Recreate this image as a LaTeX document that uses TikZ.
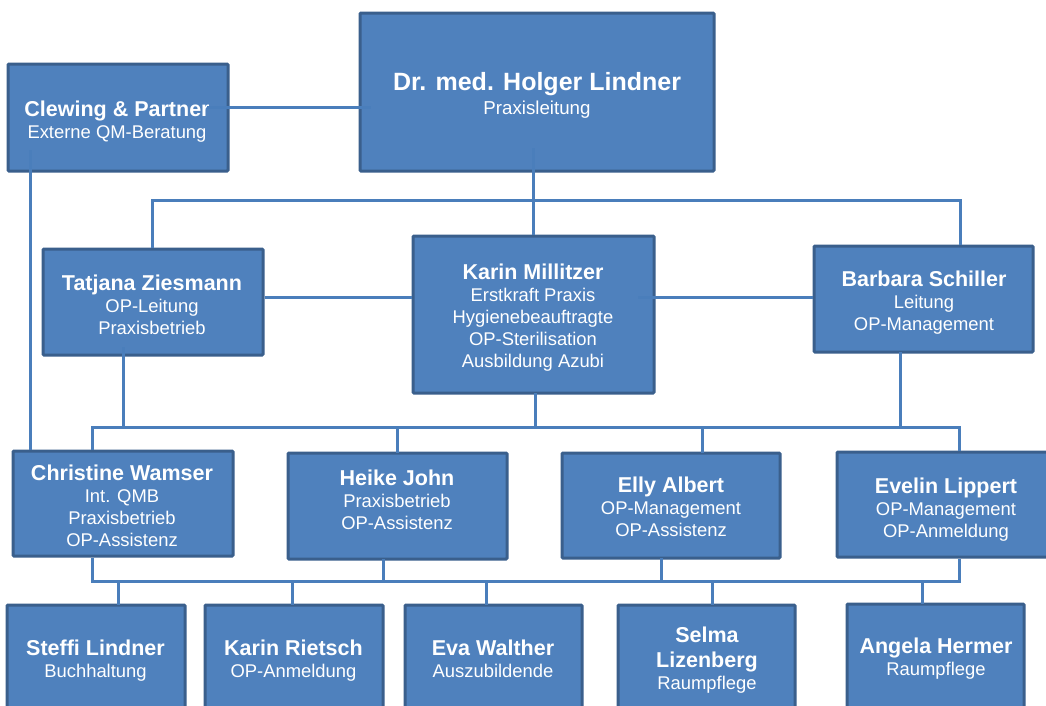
\documentclass[tikz,border=0pt]{standalone}
\usepackage{fontspec}
\setmainfont{Liberation Sans}
\definecolor{fillc}{HTML}{4F81BD}
\definecolor{bordc}{HTML}{3A5F8C}
\definecolor{linec}{HTML}{4A7EBB}
\newcommand\nm[1]{{\bfseries\fontsize{21.5}{22}\selectfont #1}}
\newcommand\nmL[1]{{\bfseries\fontsize{25}{24}\selectfont #1}}
\tikzset{
  box/.style={draw=bordc, fill=fillc, line width=3pt, rounded corners=1pt, inner sep=0pt},
  conn/.style={draw=linec, line width=3pt},
  txt/.style={text=white, align=center, anchor=base, inner sep=0pt, font=\fontsize{18.4}{22}\selectfont},
}
\begin{document}
\begin{tikzpicture}[x=1pt, y=-1pt]
\clip (0,0) rectangle (1046,705);
\fill[white] (0,0) rectangle (1046,705);
% boxes
\node[box, minimum width=354pt, minimum height=158pt] (holger) at (537,92) {};
\node[box, minimum width=220pt, minimum height=107pt] (clew) at (118,117.5) {};
\node[box, minimum width=220pt, minimum height=106pt] (tatj) at (153,302) {};
\node[box, minimum width=241pt, minimum height=157pt] (karin) at (533.5,314.5) {};
\node[box, minimum width=219pt, minimum height=106pt] (barb) at (923.5,299) {};
\node[box, minimum width=220pt, minimum height=105pt] (chris) at (123,503.5) {};
\node[box, minimum width=219pt, minimum height=106pt] (heike) at (397.5,506) {};
\node[box, minimum width=218pt, minimum height=105pt] (elly) at (671,505.5) {};
\node[box, minimum width=213pt, minimum height=105pt] (evel) at (943.5,504.5) {};
\node[box, minimum width=178pt, minimum height=125pt] (steffi) at (96,667.5) {};
\node[box, minimum width=178pt, minimum height=125pt] (karinr) at (294,667.5) {};
\node[box, minimum width=177pt, minimum height=125pt] (eva) at (493.5,667.5) {};
\node[box, minimum width=177pt, minimum height=125pt] (selma) at (706.5,667.5) {};
\node[box, minimum width=177pt, minimum height=126pt] (angela) at (935.5,667) {};
% texts (anchor = baseline of last line)
\node[txt, font=\fontsize{18.7}{24}\selectfont] (holger-t) at (537,114) {\nmL{Dr. med. Holger Lindner}\\Praxisleitung};
\node[txt] (clew-t) at (117,138) {\nm{Clewing \& Partner}\\Externe QM-Beratung};
\node[txt] (tatj-t) at (152,334) {\nm{Tatjana Ziesmann}\\OP-Leitung\\Praxisbetrieb};
\node[txt] (karin-t) at (533,367) {\nm{Karin Millitzer}\\Erstkraft Praxis\\Hygienebeauftragte\\OP-Sterilisation\\Ausbildung Azubi};
\node[txt] (barb-t) at (924,330) {\nm{Barbara Schiller}\\Leitung\\OP-Management};
\node[txt] (chris-t) at (122,546) {\nm{Christine Wamser}\\Int. QMB\\Praxisbetrieb\\OP-Assistenz};
\node[txt] (heike-t) at (397,529) {\nm{Heike John}\\Praxisbetrieb\\OP-Assistenz};
\node[txt] (elly-t) at (671,536) {\nm{Elly Albert}\\OP-Management\\OP-Assistenz};
\node[txt] (evel-t) at (946,537) {\nm{Evelin Lippert}\\OP-Management\\ OP-Anmeldung};
\node[txt] (steffi-t) at (95.5,677) {\nm{Steffi Lindner}\\Buchhaltung};
\node[txt] (karinr-t) at (293.5,677) {\nm{Karin Rietsch}\\OP-Anmeldung};
\node[txt] (eva-t) at (493,677) {\nm{Eva Walther}\\Auszubildende};
\node[txt] (selma-t) at (707,689) {\nm{Selma}\\[3pt]\nm{Lizenberg}\\Raumpflege};
\node[txt] (angela-t) at (936,675) {\nm{Angela Hermer}\\Raumpflege};
% junction coordinates
\coordinate (cl1) at (207,107);
\coordinate (ho1) at (371,107);
\coordinate (cl2) at (30,150);
\coordinate (ho2) at (533,148);
\coordinate (ta1) at (152,200);
\coordinate (ba1) at (960,200);
\coordinate (ta2) at (123,347);
\coordinate (ka1) at (638,297);
\coordinate (bus1) at (92,427);
\coordinate (bus2) at (959,427);
\coordinate (bus3) at (92,581);
\coordinate (bus4) at (959,581);
% connectors
\draw[conn] (cl1) -- (ho1);
\draw[conn] (cl2) -- (cl2 |- chris.north);
\draw[conn] (ho2) -- (ho2 |- karin.north);
\draw[conn] (ta1 |- tatj.north) -- (ta1) -- (ba1) -- (ba1 |- barb.north);
\draw[conn] (tatj.east |- ka1) -- (karin.west |- ka1);
\draw[conn] (ka1) -- (barb.west |- ka1);
\draw[conn] (ta2) -- (ta2 |- bus1);
\draw[conn] (900,352) -- (900,427);
\draw[conn] (535,393) -- (535,427);
\draw[conn] (bus1 |- chris.north) -- (bus1) -- (bus2) -- (bus2 |- evel.north);
\draw[conn] (397,427) -- (397,453);
\draw[conn] (702,427) -- (702,453);
\draw[conn] (bus3 |- chris.south) -- (bus3) -- (bus4) -- (bus4 |- evel.south);
\draw[conn] (383,559) -- (383,581);
\draw[conn] (661,558) -- (661,581);
\draw[conn] (118,581) -- (118,605);
\draw[conn] (292,581) -- (292,605);
\draw[conn] (486,581) -- (486,605);
\draw[conn] (712,581) -- (712,605);
\draw[conn] (922,581) -- (922,604);
\end{tikzpicture}
\end{document}
